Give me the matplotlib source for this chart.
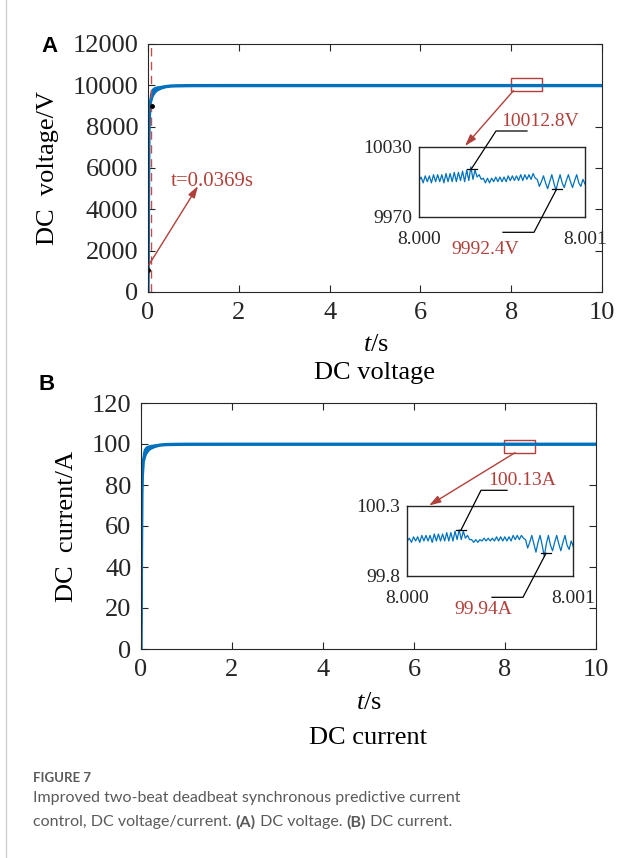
from __future__ import annotations

import numpy as np
import matplotlib

matplotlib.use("Agg")
import matplotlib.pyplot as plt
from matplotlib.patches import Rectangle
from matplotlib.lines import Line2D

W, H = 641, 858
SERIF = "Liberation Serif"
SANS = "Lato"
BLUE = "#0072BD"
RED = "#B0403A"

plt.rcParams["mathtext.fontset"] = "custom"
plt.rcParams["mathtext.rm"] = "Liberation Serif"
plt.rcParams["mathtext.it"] = "Liberation Serif:italic"

# ---- main curves ----
t_main = [0, 0.005, 0.01, 0.02, 0.03, 0.05, 0.08, 0.1, 0.15, 0.2, 0.3, 0.4, 0.5, 0.6, 0.8, 1.0, 2.0, 4.0, 6.0, 8.0, 10.0]
v_hi = [0, 4500, 7500, 9200, 9550, 9750, 9850, 9900, 9950, 9980, 10010, 10025, 10030, 10030, 10030, 10030, 10030, 10030, 10030, 10030, 10030]
v_lo = [0, 1500, 4500, 7600, 8500, 9150, 9400, 9520, 9680, 9780, 9880, 9940, 9965, 9975, 9982, 9986, 9988, 9988, 9988, 9988, 9988]
i_hi = [0, 45, 75, 92, 95.5, 97.5, 98.5, 99.0, 99.5, 99.8, 100.1, 100.25, 100.3, 100.3, 100.3, 100.3, 100.3, 100.3, 100.3, 100.3, 100.3]
i_lo = [0, 15, 45, 76, 85, 91.5, 94, 95.2, 96.8, 97.8, 98.8, 99.4, 99.65, 99.75, 99.82, 99.86, 99.88, 99.88, 99.88, 99.88, 99.88]

# data tips on panel A
tip_t = [0.0, 0.08]
tip_v = [1065, 9000]
t_settle = 0.0369

# ---- zoomed window 8.000 s .. 8.001 s ----
v_zoom = [
    10001, 10004, 9999, 10005, 10000, 10005, 9999, 10006, 10000, 10006,
    10000, 10006, 9999, 10007, 10000, 10007, 10000, 10008, 10000, 10008,
    10001, 10009, 10000, 10010, 10001, 10012.8, 10002, 10010, 10004, 10006,
    10002, 10003, 9999, 10003, 9999, 10003, 10000, 10004, 10000, 10004,
    10000, 10004, 10000, 10005, 10001, 10005, 10001, 10005, 10001, 10006,
    10001, 10006, 10002, 10006, 10002, 10007, 10003, 10002, 9996, 10000,
    10005, 9999, 9994, 10000, 10006, 9999, 9992.4, 10000, 10006, 9999,
    9995, 10001, 10006, 10000, 9995, 10001, 10006, 9999, 9996, 10002,
    9998,
]
i_zoom = [
    100.05, 100.07, 100.04, 100.08, 100.05, 100.08, 100.04, 100.09, 100.05, 100.09,
    100.05, 100.09, 100.04, 100.10, 100.05, 100.10, 100.05, 100.10, 100.05, 100.11,
    100.05, 100.11, 100.05, 100.12, 100.06, 100.13, 100.06, 100.12, 100.07, 100.09,
    100.06, 100.06, 100.04, 100.06, 100.04, 100.06, 100.05, 100.07, 100.05, 100.07,
    100.05, 100.07, 100.05, 100.08, 100.05, 100.08, 100.05, 100.08, 100.05, 100.08,
    100.05, 100.09, 100.06, 100.09, 100.06, 100.09, 100.07, 100.06, 100.00, 100.04,
    100.09, 100.03, 99.97, 100.04, 100.09, 100.02, 99.94, 100.03, 100.09, 100.02,
    99.98, 100.04, 100.09, 100.03, 99.98, 100.04, 100.09, 100.02, 99.99, 100.05,
    100.01,
]
t_zoom = np.linspace(8.000, 8.001, len(v_zoom))


def fx(x):
    return x / W


def fy(y):
    return 1 - y / H


ARROW = dict(arrowstyle="-|>,head_length=0.7,head_width=0.22", color=RED, lw=1.0,
             shrinkA=0, shrinkB=0)


def style_main(ax, ylim, yticks):
    ax.set_xlim(0, 10)
    ax.set_ylim(*ylim)
    ax.set_xticks(range(0, 11, 2))
    ax.set_yticks(yticks)
    ax.tick_params(direction="in", top=True, right=True, length=5, width=0.8,
                   labelsize=19, pad=7, color="#262626")
    for lab in ax.get_xticklabels() + ax.get_yticklabels():
        lab.set_fontfamily(SERIF)
        lab.set_color("#262626")
    for sp in ax.spines.values():
        sp.set_color("#262626")
        sp.set_linewidth(0.8)


def style_inset(ax, ylim, ylabels, ytickvals):
    ax.set_xlim(8.000, 8.001)
    ax.set_ylim(*ylim)
    ax.set_xticks([8.000, 8.001])
    ax.set_xticklabels(["8.000", "8.001"])
    ax.set_yticks(ytickvals)
    ax.set_yticklabels(ylabels)
    ax.tick_params(axis="y", length=0, labelsize=14, pad=5)
    ax.tick_params(axis="x", length=0, labelsize=14, pad=10)
    for lab in ax.get_xticklabels() + ax.get_yticklabels():
        lab.set_fontfamily(SERIF)
        lab.set_color("#262626")
    for sp in ax.spines.values():
        sp.set_color("#262626")
        sp.set_linewidth(1.0)


def leader(fig, text, text_xy, elbow_a, elbow_b, tip):
    xs = [fx(elbow_a[0]), fx(elbow_b[0]), fx(tip[0])]
    ys = [fy(elbow_a[1]), fy(elbow_b[1]), fy(tip[1])]
    fig.add_artist(Line2D(xs, ys, color="black", lw=0.9))
    fig.add_artist(Line2D([fx(tip[0] - 5), fx(tip[0] + 5)], [fy(tip[1])] * 2, color="black", lw=0.9))
    fig.text(fx(text_xy[0]), fy(text_xy[1]), text, color=RED, fontsize=14,
             family=SERIF, ha="center", va="center")


def main() -> None:
    fig = plt.figure(figsize=(W / 100, H / 100), dpi=100)
    fig.patch.set_facecolor("white")

    # page border line on the left
    fig.add_artist(Line2D([fx(6), fx(6)], [0, 1], color="#d0d0d0", lw=1.0))

    # ---------------- panel A ----------------
    ax_a = fig.add_axes([fx(148), fy(292), fx(602 - 148), (292 - 44) / H])
    ax_a.fill_between(t_main, v_lo, v_hi, color=BLUE, lw=0)
    ax_a.plot(t_main, v_lo, color=BLUE, lw=2.4)
    ax_a.axvline(t_settle + 0.04, color="#C0504D", ls=(0, (6, 4)), lw=1.0)
    ax_a.plot(tip_t, tip_v, "o", color="black", ms=2.5)
    style_main(ax_a, (0, 12000), range(0, 12001, 2000))
    ax_a.set_ylabel("DC  voltage/V", fontsize=19, family=SERIF, labelpad=10)
    ax_a.add_patch(Rectangle((7.99, 9741), 0.68, 600, fill=False, ec=RED, lw=1.0))
    ax_a.annotate("", xy=(fx(465), fy(146)), xycoords="figure fraction",
                  xytext=(8.05, 9741), textcoords="data", arrowprops=ARROW)
    ax_a.annotate("", xy=(fx(198), fy(186)), xycoords="figure fraction",
                  xytext=(tip_t[0] + 0.02, tip_v[0] + 250), textcoords="data",
                  arrowprops=ARROW)
    fig.text(fx(171), fy(181), "t=0.0369s", color=RED, fontsize=15, family=SERIF,
             ha="left", va="center")
    fig.text(fx(376), fy(345), r"$\it{t}$/s", fontsize=19, family=SERIF, ha="center", va="center")
    fig.text(fx(375), fy(373), "DC voltage", fontsize=19, family=SERIF, ha="center", va="center")
    fig.text(fx(49), fy(47), "A", fontsize=16, fontweight="bold", family="Liberation Sans",
             ha="center", va="center")

    ins_a = fig.add_axes([fx(419), fy(216.7), fx(166), 70 / H])
    ins_a.plot(t_zoom, v_zoom, color=BLUE, lw=0.9)
    style_inset(ins_a, (9970, 10030), ["9970", "10030"], [9970, 10030])
    leader(fig, "10012.8V", (540, 122), (527, 131), (496, 131), (471.5, 168.7))
    leader(fig, "9992.4V", (485, 249), (503, 232.3), (534, 232.3), (556.5, 189.3))

    # ---------------- panel B ----------------
    ax_b = fig.add_axes([fx(141), fy(649), fx(596 - 141), (649 - 403) / H])
    ax_b.fill_between(t_main, i_lo, i_hi, color=BLUE, lw=0)
    ax_b.plot(t_main, i_lo, color=BLUE, lw=2.4)
    style_main(ax_b, (0, 120), range(0, 121, 20))
    ax_b.set_ylabel("DC  current/A", fontsize=19, family=SERIF, labelpad=10)
    ax_b.add_patch(Rectangle((7.98, 95.75), 0.68, 6.2, fill=False, ec=RED, lw=1.0))
    ax_b.annotate("", xy=(fx(429), fy(505.5)), xycoords="figure fraction",
                  xytext=(8.22, 95.75), textcoords="data", arrowprops=ARROW)
    fig.text(fx(369), fy(703), r"$\it{t}$/s", fontsize=19, family=SERIF, ha="center", va="center")
    fig.text(fx(368), fy(738), "DC current", fontsize=19, family=SERIF, ha="center", va="center")
    fig.text(fx(47), fy(385), "B", fontsize=16, fontweight="bold", family="Liberation Sans",
             ha="center", va="center")

    ins_b = fig.add_axes([fx(407.3), fy(576), fx(166), 70 / H])
    ins_b.plot(t_zoom, i_zoom, color=BLUE, lw=0.9)
    style_inset(ins_b, (99.8, 100.3), ["99.8", "100.3"], [99.8, 100.3])
    leader(fig, "100.13A", (522, 481), (507, 490.3), (481, 490.3), (461, 530))
    leader(fig, "99.94A", (483, 609), (492, 597.3), (523, 597.3), (546, 553.3))

    # ---------------- caption ----------------
    grey = "#5a5a5a"
    fig.text(fx(33), fy(778), "FIGURE 7", fontsize=9.5, family=SANS, fontweight="bold",
             color=grey, ha="left", va="center")
    fig.text(fx(33), fy(798), "Improved two-beat deadbeat synchronous predictive current",
             fontsize=11.5, family=SANS, color=grey, ha="left", va="center")
    pieces = [("control, DC voltage/current. ", "normal"), ("(A)", "bold"),
              (" DC voltage. ", "normal"), ("(B)", "bold"), (" DC current.", "normal")]
    renderer = fig.canvas.get_renderer()
    x0 = fx(33)
    for txt, weight in pieces:
        t = fig.text(x0, fy(822), txt, fontsize=11.5, family=SANS, fontweight=weight,
                     color=grey, ha="left", va="center")
        bb = t.get_window_extent(renderer=renderer)
        x0 += bb.width / W

    fig.savefig("out.png", dpi=100, facecolor="white")
    plt.close(fig)


if __name__ == "__main__":
    main()
